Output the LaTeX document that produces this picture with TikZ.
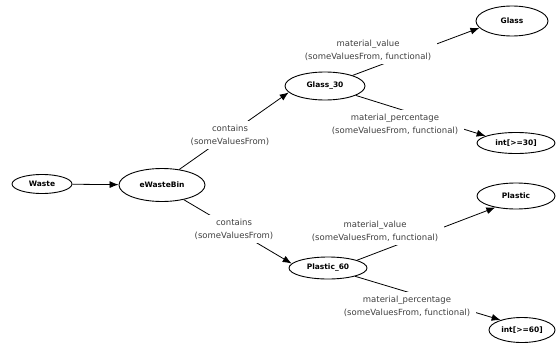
\documentclass[tikz,border=0pt]{standalone}
\usepackage{fontspec}
\setmainfont{DejaVu Sans}
\usetikzlibrary{shapes.geometric,arrows.meta}

\begin{document}
\begin{tikzpicture}[x=1pt,y=-1pt,>={Latex[length=9pt,width=7pt]},
    cls/.style={ellipse,draw,line width=0.9pt,inner sep=0pt,font=\fontsize{7.5}{9}\selectfont\bfseries},
    rel/.style={fill=white,align=center,inner xsep=6pt,inner ysep=4pt,text=black!75,font=\fontsize{8.5}{13}\selectfont}]
  \useasboundingbox (0,0) rectangle (556,345);

  \node[cls,minimum width=60pt,minimum height=19pt] (waste)     at (42,184)  {Waste};
  \node[cls,minimum width=86pt,minimum height=33pt] (ewb)       at (162,185) {eWasteBin};
  \node[cls,minimum width=80pt,minimum height=28pt] (glass30)   at (325,86)  {Glass\_30};
  \node[cls,minimum width=78pt,minimum height=22pt] (plastic60) at (328,268) {Plastic\_60};
  \node[cls,minimum width=72pt,minimum height=30pt] (glass)     at (512,21)  {Glass};
  \node[cls,minimum width=78pt,minimum height=21pt] (int30)     at (516,143) {int[>=30]};
  \node[cls,minimum width=78pt,minimum height=26pt] (plastic)   at (516,196) {Plastic};
  \node[cls,minimum width=66pt,minimum height=25pt] (int60)     at (522,330) {int[>=60]};

  \draw[line width=0.8pt]
    (waste)          edge[->] (ewb)
    (ewb.42)         edge[->] (glass30.190)
    (ewb.-34)        edge[->] (plastic60.173)
    (glass30.21)     edge[->] (glass.192)
    (glass30.-17)    edge[->] (int30.167)
    (plastic60.15)   edge[->] (plastic.209)
    (plastic60.-17)  edge[->] (int60.155);

  % labels go on top of the lines
  \node[rel] (cont1) at (230,135) {contains\\(someValuesFrom)};
  \node[rel] (cont2) at (234,229) {contains\\(someValuesFrom)};
  \node[rel] (val1)  at (368,50)  {material\_value\\(someValuesFrom, functional)};
  \node[rel] (perc1) at (395,124) {material\_percentage\\(someValuesFrom, functional)};
  \node[rel] (val2)  at (375,231) {material\_value\\(someValuesFrom, functional)};
  \node[rel] (perc2) at (407,306) {material\_percentage\\(someValuesFrom, functional)};
\end{tikzpicture}
\end{document}
